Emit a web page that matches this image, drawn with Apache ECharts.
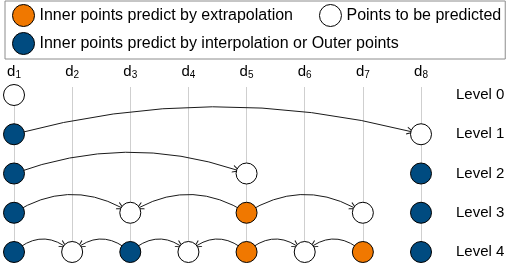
<!DOCTYPE html>
<html><head><meta charset="utf-8">
<script src="https://cdn.jsdelivr.net/npm/echarts@6/dist/echarts.min.js"></script>
<style>html,body{margin:0;padding:0;background:#fff}#c{width:506px;height:272px}</style>
</head><body><div id="c"></div>
<script>
// ---- data ----
const columns = ['d1', 'd2', 'd3', 'd4', 'd5', 'd6', 'd7', 'd8'];
const levelLabels = ['Level 0', 'Level 1', 'Level 2', 'Level 3', 'Level 4'];
const typeNames = [
  'Inner points predict by extrapolation',
  'Points to be predicted',
  'Inner points predict by interpolation or Outer points'
];
// nodes per level: [column index, type index]  (0 = extrapolation, 1 = to be predicted, 2 = interpolation / outer)
const level0Nodes = [[0, 1]];
const level1Nodes = [[0, 2], [7, 1]];
const level2Nodes = [[0, 2], [4, 1], [7, 2]];
const level3Nodes = [[0, 2], [2, 1], [4, 0], [6, 1], [7, 2]];
const level4Nodes = [[0, 2], [1, 1], [2, 2], [3, 1], [4, 0], [5, 1], [6, 0], [7, 2]];
// arrows per level: [from column, to column]
const level0Arrows = [];
const level1Arrows = [[0, 7]];
const level2Arrows = [[0, 4]];
const level3Arrows = [[0, 2], [4, 2], [4, 6]];
const level4Arrows = [[0, 1], [2, 1], [2, 3], [4, 3], [4, 5], [6, 5]];

// ---- styles ----
const typeColors = ['#F07800', '#FFFFFF', '#004B80'];
const levelCurveness = [0, 0.135, 0.183, 0.314, 0.447];
const FONT = 'Liberation Sans';
const ARROW = 'path://M0,10 L5,0 L10,10 L8.6,10 L5,2.8 L1.4,10 Z';

const levelNodes = [level0Nodes, level1Nodes, level2Nodes, level3Nodes, level4Nodes];
const levelArrows = [level0Arrows, level1Arrows, level2Arrows, level3Arrows, level4Arrows];

const nodes = [];
const links = [];
levelNodes.forEach((list, lv) => {
  list.forEach(([col, type]) => {
    nodes.push({ name: 'L' + lv + '-' + columns[col], value: [col, lv], category: type });
  });
});
levelArrows.forEach((list, lv) => {
  list.forEach(([from, to]) => {
    links.push({
      source: 'L' + lv + '-' + columns[from],
      target: 'L' + lv + '-' + columns[to],
      lineStyle: { curveness: levelCurveness[lv] * (to > from ? 1 : -1) }
    });
  });
});

const chart = echarts.init(document.getElementById('c'), null, { renderer: 'canvas' });
chart.setOption({
  animation: false,
  backgroundColor: '#fff',
  textStyle: { fontFamily: FONT, color: '#000' },
  legend: {
    left: 5, top: 1, width: 493,
    orient: 'horizontal',
    padding: [3, 4, 4, 7],
    itemGap: 5,
    itemWidth: 22, itemHeight: 22,
    icon: 'circle',
    borderColor: '#8c8c8c', borderWidth: 1,
    selectedMode: false,
    itemStyle: { borderColor: '#000', borderWidth: 1 },
    formatter: name => name === typeNames[0] ? name + '    \u2009' : name,
    textStyle: { fontFamily: FONT, fontSize: 16, color: '#000' },
    data: typeNames
  },
  grid: [
    { left: 14, right: 85, top: 87, bottom: 20, outerBoundsMode: 'none' },
    { left: 14, right: 85, top: 95, bottom: 20, outerBoundsMode: 'none' }
  ],
  xAxis: [
    {
      gridIndex: 0, type: 'category', data: columns, boundaryGap: false, position: 'top',
      axisLine: { show: false }, axisTick: { show: false },
      splitLine: { show: true, showMinLine: true, showMaxLine: true, interval: 0, lineStyle: { color: '#cfcfcf', width: 1 } },
      axisLabel: {
        margin: 7, interval: 0, fontSize: 15, fontFamily: FONT, color: '#000',
        formatter: v => '{d|d}{s|' + v.slice(1) + '}',
        rich: {
          d: { fontFamily: FONT, fontSize: 15, color: '#000' },
          s: { fontFamily: FONT, fontSize: 10, color: '#000', padding: [7, 0, 0, 0] }
        }
      }
    },
    {
      gridIndex: 1, type: 'category', data: columns, boundaryGap: false, show: false
    }
  ],
  yAxis: [
    { gridIndex: 0, type: 'value', show: false },
    {
      gridIndex: 1, type: 'value', min: 0, max: 4, interval: 1, inverse: true, position: 'right',
      offset: 15,
      axisLine: { show: false }, axisTick: { show: false }, splitLine: { show: false },
      axisLabel: {
        margin: 20, fontSize: 15, color: '#000', fontFamily: FONT, align: 'left',
        overflow: 'none',
        formatter: v => levelLabels[v] || ''
      }
    }
  ],
  series: [{
    type: 'graph',
    coordinateSystem: 'cartesian2d',
    xAxisIndex: 1, yAxisIndex: 1,
    layout: 'none',
    symbol: 'circle',
    symbolSize: 21,
    z: 5,
    categories: typeNames.map((n, i) => ({ name: n, itemStyle: { color: typeColors[i] } })),
    itemStyle: { borderColor: '#000', borderWidth: 1 },
    label: { show: false },
    edgeSymbol: ['none', ARROW],
    edgeSymbolSize: [0, 8],
    lineStyle: { color: '#1a1a1a', width: 1, opacity: 1 },
    emphasis: { disabled: true },
    data: nodes,
    links: links
  }]
});
</script></body></html>
